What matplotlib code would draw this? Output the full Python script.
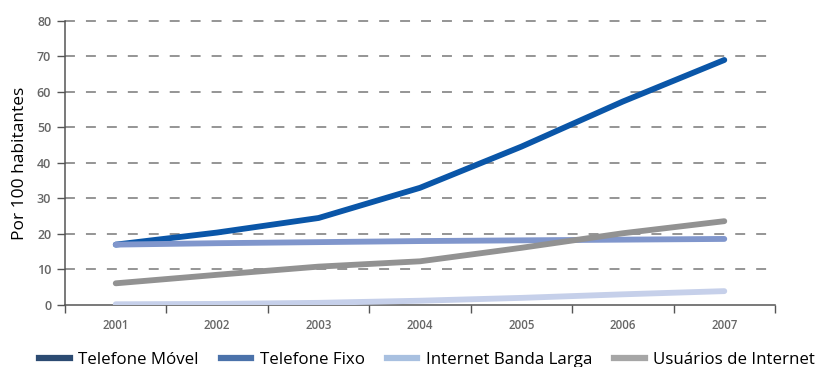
import matplotlib
matplotlib.use("Agg")
import matplotlib.pyplot as plt
from matplotlib.ticker import FixedLocator, NullFormatter
import numpy as np

plt.rcParams['font.family'] = ['Open Sans', 'DejaVu Sans']

years = ["2001", "2002", "2003", "2004", "2005", "2006", "2007"]
movel = [17.0, 20.4, 24.5, 33.0, 44.6, 57.3, 69.0]
fixo = [17.0, 17.4, 17.7, 18.0, 18.2, 18.4, 18.6]
banda_larga = [0.2, 0.3, 0.6, 1.2, 2.0, 3.0, 3.9]
usuarios = [6.1, 8.5, 10.8, 12.3, 16.1, 20.2, 23.6]

series = [
    ("Telefone Móvel", movel, "#0a56a8", "#2c4b72"),
    ("Telefone Fixo", fixo, "#8096cc", "#4b72aa"),
    ("Internet Banda Larga", banda_larga, "#c6d0ea", "#a8c0e0"),
    ("Usuários de Internet", usuarios, "#929292", "#a6a6a6"),
]

fig = plt.figure(figsize=(8.17, 3.67), dpi=100)
ax = fig.add_axes([0.0796, 0.169, 0.869, 0.774])

x = np.arange(len(years))
draw_order = [2, 3, 1, 0]
for i in draw_order:
    name, vals, col, _ = series[i]
    ax.plot(x, vals, color=col, lw=4.2, solid_capstyle="round",
            solid_joinstyle="round", zorder=3 + i * 0.1)

ax.set_xlim(-0.5, len(years) - 0.5)
ax.set_ylim(0, 80)

# dashed horizontal guides
for v in range(10, 81, 10):
    ax.plot([-0.5, len(years) - 0.53], [v, v], color="#8c8c8c", lw=1.3,
            dashes=(5.5, 6.1), zorder=1, clip_on=False)

ax.set_yticks(range(0, 81, 10))
ax.tick_params(axis="y", direction="out", length=6, width=1, color="#555555",
               labelsize=9, labelcolor="#666666", pad=4)
for t in ax.get_yticklabels():
    t.set_fontweight("semibold")
ax.set_xticks(x)
ax.set_xticklabels(years)
ax.tick_params(axis="x", which="major", length=0, labelsize=8.3,
               labelcolor="#666666", pad=10)
for t in ax.get_xticklabels():
    t.set_fontweight("semibold")
ax.xaxis.set_minor_locator(FixedLocator(np.arange(-0.5, len(years), 1.0)))
ax.xaxis.set_minor_formatter(NullFormatter())
ax.tick_params(axis="x", which="minor", direction="out", length=6, width=1,
               color="#555555")

for s in ["top", "right"]:
    ax.spines[s].set_visible(False)
for s in ["left", "bottom"]:
    ax.spines[s].set_color("#555555")
    ax.spines[s].set_linewidth(1.1)

ax.set_ylabel("Por 100 habitantes", fontsize=12.5, color="black", labelpad=6)

handles = []
for name, vals, col, legcol in series:
    h, = plt.plot([], [], color=legcol, lw=4.5, label=name)
    handles.append(h)
fig.legend(handles=handles, loc="lower left", bbox_to_anchor=(0.046, -0.008),
           ncol=4, frameon=False, fontsize=12.2, handlelength=1.8,
           handletextpad=0.5, columnspacing=1.3, borderaxespad=0,
           borderpad=0.1)

fig.savefig("out.png", dpi=100)
